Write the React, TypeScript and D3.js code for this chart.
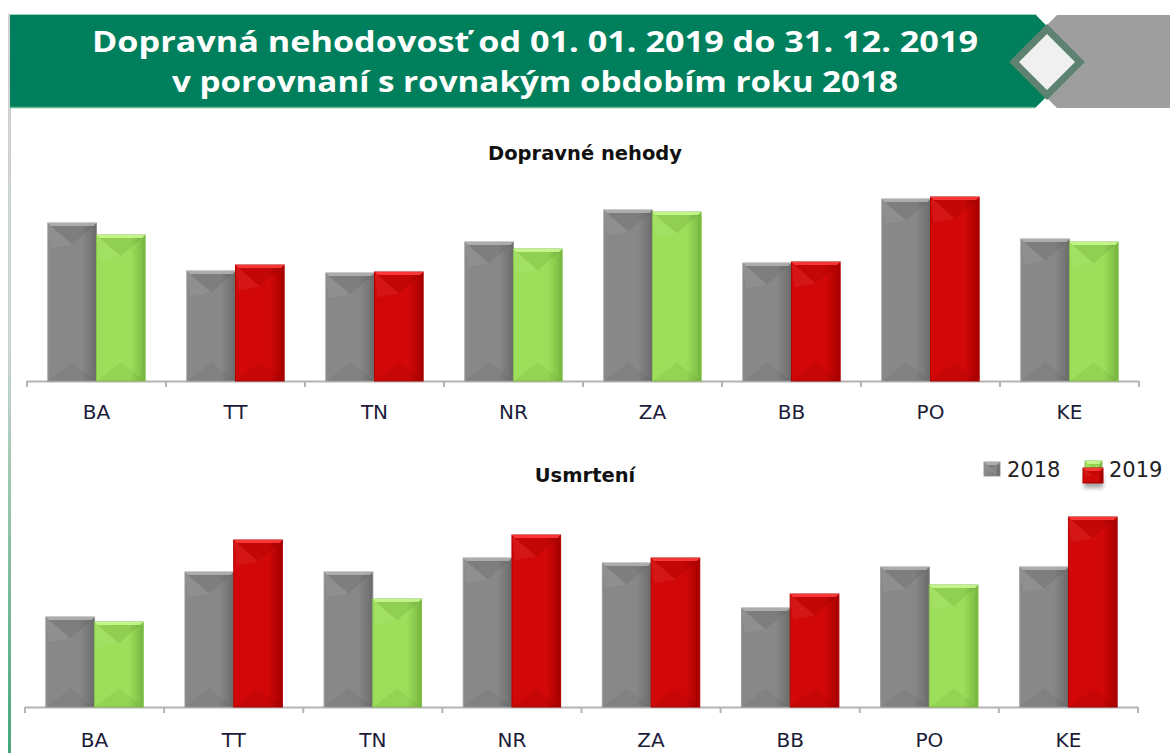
import React from "react";
import * as d3 from "d3";

const categories = ["BA", "TT", "TN", "NR", "ZA", "BB", "PO", "KE"];
const accidents2018 = [158, 110, 108, 139, 171, 118, 182, 142];
const accidents2019 = [146, 116, 109, 132, 169, 119, 184, 139];
const deaths2018 = [90, 135, 135, 149, 144, 99, 140, 140];
const deaths2019 = [85, 167, 108, 172, 149, 113, 122, 190];
const seriesNames = ["2018", "2019"];
const titleLines = [
  "Dopravná nehodovosť od 01. 01. 2019 do 31. 12. 2019",
  "v porovnaní s rovnakým obdobím roku 2018",
];
const chartTitles = ["Dopravné nehody", "Usmrtení"];

const W = 1173;
const H = 753;

type Pal = { base: string; light: string; dark: string; edge: string };
const GRAY: Pal = { base: "#888888", light: "#b0b0b0", dark: "#6c6c6c", edge: "#9a9a9a" };
const GREEN: Pal = { base: "#9ddf5a", light: "#c8f78e", dark: "#78b842", edge: "#86c24c" };
const RED: Pal = { base: "#d20808", light: "#ff3c3c", dark: "#a60000", edge: "#b00000" };
const palKey = (p: Pal) => (p === GRAY ? "g" : p === GREEN ? "gr" : "r");

function Bar({ x, y, w, h, pal, id }: { x: number; y: number; w: number; h: number; pal: Pal; id: string }) {
  const k = palKey(pal);
  const b = 3;
  const d = Math.min(w * 0.38, h * 0.3);
  const xc = x + w / 2;
  const y1 = y + h;
  return (
    <g key={id}>
      <rect x={x} y={y} width={w} height={h} fill={`url(#hg-${k})`} stroke={pal.edge} strokeWidth={1} />
      <polygon
        points={`${x},${y} ${x + w},${y} ${x + w - b},${y + b} ${x + b},${y + b}`}
        fill={pal.light}
        opacity={0.9}
      />
      <polygon points={`${x + b},${y + b} ${x + w - b},${y + b} ${xc},${y + b + d}`} fill="#000" opacity={0.07} />
      <polygon points={`${x},${y + b} ${x + b},${y + b} ${xc},${y + b + d} ${x + b},${y + b + d * 1.2}`} fill="#fff" opacity={0.06} />
      <polygon points={`${x},${y1} ${x + w},${y1} ${xc},${y1 - d}`} fill="#000" opacity={0.05} />
      <rect x={x + w - b} y={y + b} width={b} height={h - b} fill={pal.dark} opacity={0.5} />
    </g>
  );
}

function Chart({
  v18,
  v19,
  baseY,
  axisX0,
  axisX1,
  labelY,
  idp,
}: {
  v18: number[];
  v19: number[];
  baseY: number;
  axisX0: number;
  axisX1: number;
  labelY: number;
  idp: string;
}) {
  const x = d3.scaleBand<string>().domain(categories).range([axisX0, axisX1]).paddingInner(0.3).paddingOuter(0.15);
  const sub = d3.scaleBand<string>().domain(seriesNames).range([0, x.bandwidth()]);
  const y = d3.scaleLinear().domain([0, 200]).range([baseY, baseY - 200]);
  const step = x.step();
  const ticks = categories.map((c) => (x(c) as number) - step * 0.15).concat([axisX1]);
  return (
    <g>
      <line x1={axisX0} x2={axisX1} y1={baseY + 0.5} y2={baseY + 0.5} stroke="#b4b4b4" strokeWidth={2} />
      {ticks.map((t, i) => (
        <line key={i} x1={t} x2={t} y1={baseY} y2={baseY + 6} stroke="#b4b4b4" strokeWidth={2} />
      ))}
      {categories.map((c, i) => {
        const gx = x(c) as number;
        const a = v18[i];
        const bv = v19[i];
        const pal19 = bv > a ? RED : GREEN;
        return (
          <g key={c}>
            <Bar id={`${idp}a${i}`} x={gx + (sub("2018") as number)} y={y(a)} w={sub.bandwidth()} h={baseY - y(a)} pal={GRAY} />
            <Bar id={`${idp}b${i}`} x={gx + (sub("2019") as number)} y={y(bv)} w={sub.bandwidth()} h={baseY - y(bv)} pal={pal19} />
            <text
              x={gx + x.bandwidth() / 2}
              y={labelY}
              textAnchor="middle"
              fontFamily="DejaVu Sans, Verdana, sans-serif"
              fontSize={20}
              fill="#1c1c3a"
            >
              {c}
            </text>
          </g>
        );
      })}
    </g>
  );
}

export default function App() {
  const grads = [GRAY, GREEN, RED];
  return (
    <svg width={W} height={H} style={{ position: "absolute", left: 0, top: 0, background: "#fff" }}>
      <defs>
        {grads.map((p) => (
          <linearGradient key={palKey(p)} id={`hg-${palKey(p)}`} x1="0" x2="1" y1="0" y2="0">
            <stop offset="0%" stopColor={p.base} />
            <stop offset="70%" stopColor={p.base} />
            <stop offset="100%" stopColor={p.dark} />
          </linearGradient>
        ))}
        <linearGradient id="leftline" x1="0" x2="0" y1="0" y2="1">
          <stop offset="0%" stopColor="#d0d0d0" />
          <stop offset="45%" stopColor="#cbd6d0" />
          <stop offset="100%" stopColor="#45a878" />
        </linearGradient>
        <filter id="shadow" x="-50%" y="-50%" width="200%" height="200%">
          <feGaussianBlur stdDeviation="2" />
        </filter>
      </defs>
      <rect x={0} y={0} width={W} height={H} fill="#fff" />
      {/* left border */}
      <rect x={8} y={14} width={3} height={H - 14} fill="url(#leftline)" />
      {/* header */}
      <polygon points="1057,15 1170,15 1170,108 1057,108 1010,62" fill="#9e9e9e" />
      <polygon points="10,14 1035,14 1082,62 1035,108 10,108" fill="#007f5c" />
      <line x1={10} x2={1035} y1={14.5} y2={14.5} stroke="#9fd1bb" strokeWidth={1} />
      <line x1={10} x2={1035} y1={107.5} y2={107.5} stroke="#5db893" strokeWidth={1.5} />
      <polygon points="1047,29 1080,62 1047,95 1014,62" fill="#f0f0f0" stroke="#5e8272" strokeWidth={7} />
      <text
        x={535}
        y={52}
        textAnchor="middle"
        fontFamily="Open Sans, sans-serif"
        fontWeight={700}
        fontSize={28}
        fill="#fff"
        textLength={886}
        lengthAdjust="spacingAndGlyphs"
      >
        {titleLines[0]}
      </text>
      <text
        x={535}
        y={92}
        textAnchor="middle"
        fontFamily="Open Sans, sans-serif"
        fontWeight={700}
        fontSize={28}
        fill="#fff"
        textLength={726}
        lengthAdjust="spacingAndGlyphs"
      >
        {titleLines[1]}
      </text>

      {/* chart titles */}
      <text x={585} y={160} textAnchor="middle" fontFamily="DejaVu Sans, Verdana, sans-serif" fontWeight={700} fontSize={19.5} fill="#111">
        {chartTitles[0]}
      </text>
      <text x={585} y={482} textAnchor="middle" fontFamily="DejaVu Sans, Verdana, sans-serif" fontWeight={700} fontSize={19.5} fill="#111">
        {chartTitles[1]}
      </text>

      <Chart v18={accidents2018} v19={accidents2019} baseY={381} axisX0={27} axisX1={1139} labelY={419} idp="t" />
      <Chart v18={deaths2018} v19={deaths2019} baseY={707} axisX0={25} axisX1={1138} labelY={747} idp="b" />

      {/* legend */}
      <g>
        <Bar id="lg1" x={984} y={462} w={16} h={14} pal={GRAY} />
        <text x={1007} y={477} fontFamily="DejaVu Sans, Verdana, sans-serif" fontSize={21} fill="#222">
          {seriesNames[0]}
        </text>
        <Bar id="lg2" x={1085} y={461} w={17} h={14} pal={GREEN} />
        <rect x={1084} y={474} width={19} height={14} fill="#000" opacity={0.35} filter="url(#shadow)" />
        <Bar id="lg3" x={1083} y={468} w={20} h={15} pal={RED} />
        <text x={1109} y={477} fontFamily="DejaVu Sans, Verdana, sans-serif" fontSize={21} fill="#222">
          {seriesNames[1]}
        </text>
      </g>
    </svg>
  );
}
